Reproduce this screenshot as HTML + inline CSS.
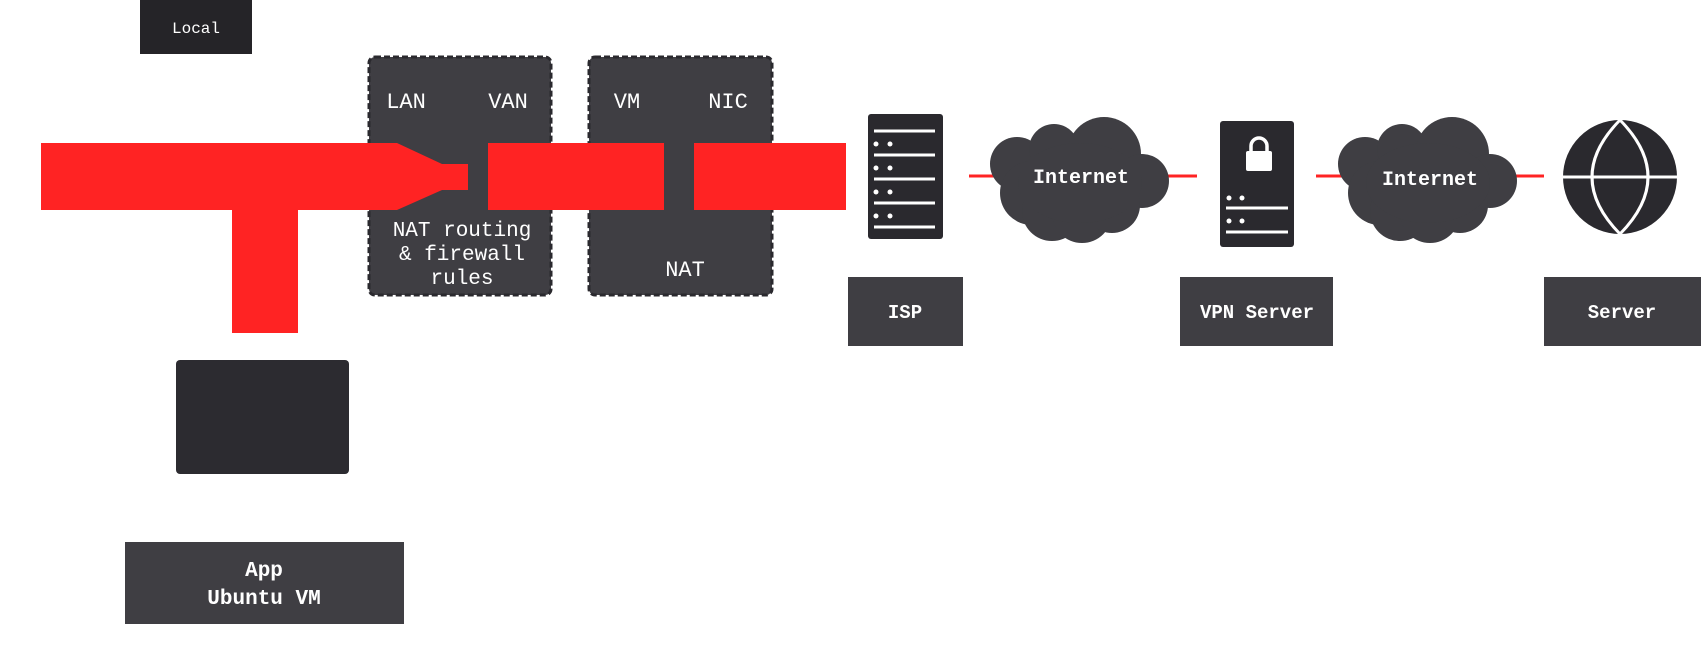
<!DOCTYPE html>
<html><head><meta charset="utf-8"><style>
html,body{margin:0;padding:0;background:#fff;}
svg{display:block;}
text{font-family:"Liberation Mono",monospace;fill:#fff;}
</style></head><body>
<svg width="1701" height="655" viewBox="0 0 1701 655" xmlns="http://www.w3.org/2000/svg">
<!-- Local -->
<rect x="140" y="0" width="112" height="54" fill="#252428"/>
<text x="196" y="33" font-size="16" text-anchor="middle">Local</text>

<!-- dashed boxes -->
<rect x="369" y="57" width="182" height="238" rx="6" fill="#3f3e43" stroke="#2a292e" stroke-width="3" stroke-dasharray="6 3"/>
<rect x="589" y="57" width="183" height="238" rx="6" fill="#3f3e43" stroke="#2a292e" stroke-width="3" stroke-dasharray="6 3"/>
<g font-size="22">
<text x="406" y="108" text-anchor="middle">LAN</text>
<text x="508" y="108" text-anchor="middle">VAN</text>
<text x="627" y="108" text-anchor="middle">VM</text>
<text x="728" y="108" text-anchor="middle">NIC</text>
<text x="462" y="236" text-anchor="middle" font-size="21">NAT routing</text>
<text x="462" y="260" text-anchor="middle" font-size="21">&amp; firewall</text>
<text x="462" y="284" text-anchor="middle" font-size="21">rules</text>
<text x="685" y="276" text-anchor="middle">NAT</text>
</g>

<!-- red pipe -->
<polygon points="41,143 397,143 442,164 468,164 468,190 442,190 397,210 298,210 298,333 232,333 232,210 41,210" fill="#ff2323"/>
<rect x="488" y="143" width="176" height="67" fill="#ff2323"/>
<rect x="694" y="143" width="152" height="67" fill="#ff2323"/>

<!-- left boxes -->
<rect x="176" y="360" width="173" height="114" rx="4" fill="#2c2b30"/>
<rect x="125" y="542" width="279" height="82" fill="#3f3e43"/>
<text x="264" y="576" font-size="21" font-weight="bold" text-anchor="middle">App</text>
<text x="264" y="604" font-size="21" font-weight="bold" text-anchor="middle">Ubuntu VM</text>

<!-- red lines -->
<line x1="969" y1="176" x2="1197" y2="176" stroke="#ff2323" stroke-width="3"/>
<line x1="1316" y1="176" x2="1544" y2="176" stroke="#ff2323" stroke-width="3"/>

<!-- ISP server -->
<rect x="868" y="114" width="75" height="125" rx="3" fill="#2a292e"/>
<g stroke="#fff" stroke-width="3">
<line x1="874" y1="131" x2="935" y2="131"/>
<line x1="874" y1="155" x2="935" y2="155"/>
<line x1="874" y1="179" x2="935" y2="179"/>
<line x1="874" y1="203" x2="935" y2="203"/>
<line x1="874" y1="227" x2="935" y2="227"/>
</g>
<g fill="#fff">
<circle cx="876" cy="144" r="2.5"/><circle cx="890" cy="144" r="2.5"/>
<circle cx="876" cy="168" r="2.5"/><circle cx="890" cy="168" r="2.5"/>
<circle cx="876" cy="192" r="2.5"/><circle cx="890" cy="192" r="2.5"/>
<circle cx="876" cy="216" r="2.5"/><circle cx="890" cy="216" r="2.5"/>
</g>

<!-- clouds -->
<defs>
<g id="cloud" fill="#3f3e43">
<circle cx="27" cy="47" r="27"/>
<circle cx="64" cy="32" r="25"/>
<circle cx="114" cy="37" r="37"/>
<circle cx="152" cy="64" r="27"/>
<circle cx="42" cy="76" r="32"/>
<circle cx="62" cy="94" r="30"/>
<circle cx="92" cy="96" r="30"/>
<circle cx="122" cy="88" r="28"/>
<ellipse cx="90" cy="66" rx="62" ry="40"/>
</g>
</defs>
<use href="#cloud" x="990" y="117"/>
<use href="#cloud" x="1338" y="117"/>
<text x="1081" y="183" font-size="20" font-weight="bold" text-anchor="middle">Internet</text>
<text x="1430" y="185" font-size="20" font-weight="bold" text-anchor="middle">Internet</text>

<!-- VPN server -->
<rect x="1220" y="121" width="74" height="126" rx="3" fill="#2a292e"/>
<path d="M1251 152 v-6 a8 8 0 0 1 16 0 v6" fill="none" stroke="#fff" stroke-width="3.5"/>
<rect x="1246" y="151" width="26" height="20" rx="2" fill="#fff"/>
<g stroke="#fff" stroke-width="3">
<line x1="1226" y1="208" x2="1288" y2="208"/>
<line x1="1226" y1="232" x2="1288" y2="232"/>
</g>
<g fill="#fff">
<circle cx="1229" cy="198" r="2.5"/><circle cx="1242" cy="198" r="2.5"/>
<circle cx="1229" cy="221" r="2.5"/><circle cx="1242" cy="221" r="2.5"/>
</g>

<!-- globe -->
<circle cx="1620" cy="177" r="57" fill="#2a292e"/>
<g fill="none" stroke="#fff" stroke-width="3">
<line x1="1563" y1="177" x2="1677" y2="177"/>
<path d="M1620 120 Q1564 177 1620 234"/>
<path d="M1620 120 Q1676 177 1620 234"/>
</g>

<!-- labels -->
<rect x="848" y="277" width="115" height="69" fill="#3f3e43"/>
<text x="905" y="318" font-size="19" font-weight="bold" text-anchor="middle">ISP</text>
<rect x="1180" y="277" width="153" height="69" fill="#3f3e43"/>
<text x="1257" y="318" font-size="19" font-weight="bold" text-anchor="middle">VPN Server</text>
<rect x="1544" y="277" width="157" height="69" fill="#3f3e43"/>
<text x="1622" y="318" font-size="19" font-weight="bold" text-anchor="middle">Server</text>
</svg>
</body></html>
